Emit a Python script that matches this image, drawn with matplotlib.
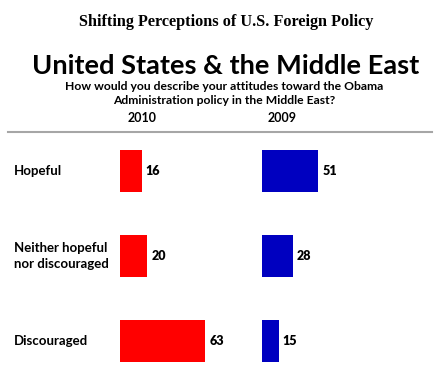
import matplotlib.pyplot as plt
from matplotlib.lines import Line2D

# data
categories = ["Hopeful", "Neither hopeful\nnor discouraged", "Discouraged"]
vals_2010 = [16, 20, 63]
vals_2009 = [51, 28, 15]

W, H = 446, 382
fig = plt.figure(figsize=(W / 100, H / 100), dpi=100)
fig.patch.set_facecolor("white")

def fx(px):
    return px / W

def fy(py):
    return 1 - py / H

sans = ["Lato", "DejaVu Sans"]

fig.text(fx(226), fy(22), "Shifting Perceptions of U.S. Foreign Policy",
         family="Liberation Serif", weight="bold", fontsize=11.7,
         ha="center", va="center")
fig.text(fx(226), fy(66), "United States & the Middle East",
         family=sans, weight="bold", fontsize=19.6, ha="center", va="center")
fig.text(fx(224), fy(86), "How would you describe your attitudes toward the Obama",
         family=sans, weight="bold", fontsize=8.7, ha="center", va="center")
fig.text(fx(224), fy(101), "Administration policy in the Middle East?",
         family=sans, weight="bold", fontsize=8.7, ha="center", va="center")
fig.text(fx(142), fy(118), "2010", family=sans, weight="bold", fontsize=9,
         ha="center", va="center")
fig.text(fx(282), fy(118), "2009", family=sans, weight="bold", fontsize=9,
         ha="center", va="center")

# gray rule
fig.add_artist(Line2D([fx(8), fx(432)], [fy(132), fy(132)], color="#a6a6a6", lw=1.5))

# axes geometry: rows at y=171,256,341 px; spacing 85 px
row_sp = 85
y_top = 171 - 0.5 * row_sp
y_bot = 341 + 0.45 * row_sp
ax_b = fy(y_bot)
ax_h = (y_bot - y_top) / H

ax1 = fig.add_axes([fx(120), ax_b, fx(135), ax_h])
ax2 = fig.add_axes([fx(262), ax_b, fx(110), ax_h])

ypos = range(len(categories))
for ax, vals, col in [(ax1, vals_2010, "#ff0000"), (ax2, vals_2009, "#0000c0")]:
    bars = ax.barh(ypos, vals, height=42 / row_sp, color=col)
    ax.set_xlim(0, 100)
    ax.set_ylim(2.45, -0.5)
    ax.axis("off")
    for b, v in zip(bars, vals):
        ax.annotate(str(v), (b.get_width(), b.get_y() + b.get_height() / 2),
                    xytext=(3, 0), textcoords="offset points", ha="left",
                    va="center", family=sans, weight="heavy", fontsize=9)

for i, c in enumerate(categories):
    fig.text(fx(14), fy(171 + i * row_sp), c, family=sans, weight="bold",
             fontsize=9.5, ha="left", va="center", linespacing=1.3)

fig.savefig("out.png", dpi=100)
